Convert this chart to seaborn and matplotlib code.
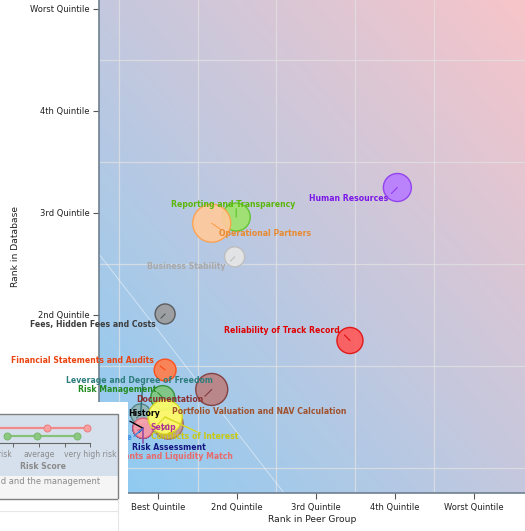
import numpy as np
import pandas as pd
import matplotlib
matplotlib.use("Agg")
import matplotlib.pyplot as plt
import seaborn as sns
from matplotlib.colors import LinearSegmentedColormap
from matplotlib.patches import Rectangle
from matplotlib.lines import Line2D

# --- data ------------------------------------------------------------------
factors = [
    "History", "Setup", "Compliance", "Risk Assessment",
    "Leverage and Degree of Freedom", "Investments and Liquidity Match",
    "Documentation", "Risk Management", "Conflicts of Interest",
    "Portfolio Valuation and NAV Calculation", "Financial Statements and Audits",
    "Fees, Hidden Fees and Costs", "Business Stability",
    "Reporting and Transparency", "Operational Partners",
    "Reliability of Track Record", "Human Resources",
]
peer_rank = [0.81, 0.81, 0.81, 0.81, 0.78, 0.81, 1.13, 1.06, 1.09, 1.68, 1.09,
             1.09, 1.97, 1.99, 1.68, 3.43, 4.03]
db_rank = [0.89, 0.89, 0.89, 0.89, 1.03, 0.89, 0.93, 1.19, 1.00, 1.27, 1.46,
           2.01, 2.57, 2.96, 2.90, 1.75, 3.25]
weight = [5.0, 5.0, 5.0, 5.0, 5.0, 5.0, 11.2, 7.2, 14.5, 12.8, 6.0,
          5.0, 5.0, 9.8, 18.0, 8.5, 9.8]
trend_angle = [225, 225, 225, 225, 225, 200, 225, 135, 225, 225, 140,
               225, 225, 90, -35, 135, 225]

quintiles = ["Best Quintile", "2nd Quintile", "3rd Quintile", "4th Quintile", "Worst Quintile"]

# mini risk score panel
score_ticks = ["very low risk", "", "average", "", "very high risk"]
fund_scores = [1.2, 3.31, 4.87]
mgmt_scores = [1.75, 2.92, 4.48]

# --- styles -----------------------------------------------------------------
fill = {
    "History": "#606060", "Setup": "#c060b0", "Compliance": "#70a8e8",
    "Risk Assessment": "#5050a0", "Leverage and Degree of Freedom": "#93b5b5",
    "Investments and Liquidity Match": "#ffa2aa", "Documentation": "#c89a8c",
    "Risk Management": "#7fc67f", "Conflicts of Interest": "#ffff6a",
    "Portfolio Valuation and NAV Calculation": "#bb8282",
    "Financial Statements and Audits": "#ff7d4c",
    "Fees, Hidden Fees and Costs": "#9c9c9c", "Business Stability": "#e6e6e6",
    "Reporting and Transparency": "#9ee36c", "Operational Partners": "#ffca9c",
    "Reliability of Track Record": "#ff5a5a", "Human Resources": "#b87cff",
}
edge = {
    "History": "#303030", "Setup": "#902080", "Compliance": "#3070c0",
    "Risk Assessment": "#202070", "Leverage and Degree of Freedom": "#4f7f7f",
    "Investments and Liquidity Match": "#e0607a", "Documentation": "#9a6a5a",
    "Risk Management": "#2f8f2f", "Conflicts of Interest": "#d8d820",
    "Portfolio Valuation and NAV Calculation": "#7f3a3a",
    "Financial Statements and Audits": "#ff4a10",
    "Fees, Hidden Fees and Costs": "#555555", "Business Stability": "#bdbdbd",
    "Reporting and Transparency": "#5cc227", "Operational Partners": "#ffa04a",
    "Reliability of Track Record": "#e01010", "Human Resources": "#8f3cf0",
}
label_color = {
    "History": "#000000", "Setup": "#b0309a", "Compliance": "#3a8fe6",
    "Risk Assessment": "#141480", "Leverage and Degree of Freedom": "#2e7d7d",
    "Investments and Liquidity Match": "#e86a6a", "Documentation": "#8b3030",
    "Risk Management": "#228b22", "Conflicts of Interest": "#c8c810",
    "Portfolio Valuation and NAV Calculation": "#a0522d",
    "Financial Statements and Audits": "#ea4410",
    "Fees, Hidden Fees and Costs": "#3d3d3d", "Business Stability": "#a9a9a9",
    "Reporting and Transparency": "#5bb70a", "Operational Partners": "#e88a32",
    "Reliability of Track Record": "#e00000", "Human Resources": "#7b16e8",
}
# label placement (offset in pixels from bubble centre, +y down), alignment
label_pos = {
    "History": (-15, -15, "left"), "Setup": (8, -1, "left"),
    "Compliance": (-10, 9, "right"), "Risk Assessment": (-11, 19, "left"),
    "Leverage and Degree of Freedom": (-1, -33, "center"),
    "Investments and Liquidity Match": (90, 28, "right"),
    "Documentation": (2, -25, "center"), "Risk Management": (-6, -8, "right"),
    "Conflicts of Interest": (-14, 19, "left"),
    "Portfolio Valuation and NAV Calculation": (-40, 22, "left"),
    "Financial Statements and Audits": (-11, -10, "right"),
    "Fees, Hidden Fees and Costs": (-9, 11, "right"),
    "Business Stability": (-9, 10, "right"),
    "Reporting and Transparency": (-3, -13, "center"),
    "Operational Partners": (7, 10, "left"),
    "Reliability of Track Record": (-10, -10, "right"),
    "Human Resources": (-9, 11, "right"),
}
# leader lines from bubble centre (pixels, +y down)
leaders = {
    "History": (-13, -7), "Compliance": (-9, 8), "Risk Assessment": (0, 15),
    "Leverage and Degree of Freedom": (2, -28), "Conflicts of Interest": (32, 15),
}
leader_color = {
    "History": "#000000", "Compliance": "#3a8fe6", "Risk Assessment": "#8a3aa0",
    "Leverage and Degree of Freedom": "#2e6e6e", "Conflicts of Interest": "#d8d820",
}

df = pd.DataFrame({"factor": factors, "peer": peer_rank, "db": db_rank,
                   "weight": weight, "angle": trend_angle})

sns.set_theme(style="white")
plt.rcParams["font.family"] = ["DejaVu Sans"]

W, H = 525, 531
PX = 0.72  # points per pixel at dpi 100
fig = plt.figure(figsize=(W / 100, H / 100), dpi=100)
ax = fig.add_axes([99 / W, (H - 493) / H, 1 - 99 / W, 493 / H])

xlim = (0.253, 5.646)
ylim = (0.255, 5.088)

# gradient background
u = np.linspace(0, 1, 300)
gx, gy = np.meshgrid(u, u)
grad = (gx + gy) / 2
cmap = LinearSegmentedColormap.from_list("bg", ["#8ccbf3", "#c4c8de", "#f7c5ca"])
ax.imshow(grad, extent=(*xlim, *ylim), origin="lower", aspect="auto",
          cmap=cmap, zorder=0, interpolation="bilinear")
ax.axline((0, 2.85), slope=-1, color="white", lw=0.6, alpha=0.55, zorder=1)

# bubbles
smax = 41.5 * 20
sns.scatterplot(data=df, x="peer", y="db", hue="factor", palette=fill,
                size="weight", sizes=(0, smax), size_norm=(0, 20),
                edgecolor=[edge[f] for f in factors], linewidth=1.0,
                alpha=0.92, legend=False, ax=ax, zorder=3)

for _, row in df.iterrows():
    f = row["factor"]
    r_pt = np.sqrt(41.5 * row["weight"]) / 2
    L = 0.6 * r_pt
    a = np.deg2rad(row["angle"])
    ax.annotate("", xy=(row["peer"], row["db"]), xytext=(L * np.cos(a), L * np.sin(a)),
                textcoords="offset points",
                arrowprops=dict(arrowstyle="-", color=edge[f], lw=0.8,
                                shrinkA=0, shrinkB=0), zorder=4)
    if f in leaders:
        lx, ly = leaders[f]
        ax.annotate("", xy=(row["peer"], row["db"]), xytext=(lx * PX, -ly * PX),
                    textcoords="offset points",
                    arrowprops=dict(arrowstyle="-", color=leader_color[f], lw=1.0,
                                    shrinkA=0, shrinkB=0), zorder=5)
    dx, dy, ha = label_pos[f]
    ax.annotate(f, xy=(row["peer"], row["db"]), xytext=(dx * PX, -dy * PX),
                textcoords="offset points", ha=ha, va="center",
                fontsize=5.6, fontweight="bold", color=label_color[f], zorder=6)

ax.set_xlim(*xlim)
ax.set_ylim(*ylim)
ax.set_xticks(range(1, 6))
ax.set_xticklabels(quintiles)
ax.set_yticks(range(1, 6))
ax.set_yticklabels(quintiles)
ax.set_xticks(np.arange(0.5, 5.0, 1), minor=True)
ax.set_yticks(np.arange(0.5, 5.0, 1), minor=True)
ax.grid(which="minor", color="#e2e2e2", lw=0.9, alpha=0.75)
ax.grid(which="major", visible=False)
ax.tick_params(which="minor", length=0)
ax.tick_params(which="major", length=4, width=0.8, color="#555555",
               labelsize=6.0, labelcolor="#222222", pad=3)
ax.tick_params(axis="x", which="major", bottom=True)
ax.tick_params(axis="y", which="major", left=True)
for s in ["top", "right"]:
    ax.spines[s].set_visible(False)
for s in ["left", "bottom"]:
    ax.spines[s].set_color("#6f7f8f")
    ax.spines[s].set_linewidth(1.2)
ax.set_xlabel("Rank in Peer Group", fontsize=6.6, color="#222222", labelpad=2)
ax.set_ylabel("Rank in Database", fontsize=6.6, color="#222222", labelpad=7)

# overlaid popup panel
fig.add_artist(Rectangle((0, 0), 128 / W, (H - 402) / H, transform=fig.transFigure,
                         facecolor="white", edgecolor="none", zorder=5))
fig.add_artist(Rectangle((-2 / W, (H - 476) / H), 120 / W, 62 / H,
                         transform=fig.transFigure, facecolor="#d6e0ec",
                         edgecolor="none", zorder=5.1))
fig.add_artist(Rectangle((-2 / W, (H - 499) / H), 120 / W, 23 / H,
                         transform=fig.transFigure, facecolor="#f5f5f5",
                         edgecolor="none", zorder=5.1))
fig.add_artist(Rectangle((-2 / W, (H - 499) / H), 120 / W, 85 / H,
                         transform=fig.transFigure, facecolor="none",
                         edgecolor="#808080", lw=1.0, zorder=5.2))
fig.add_artist(Line2D([0, 118 / W], [(H - 511) / H] * 2, transform=fig.transFigure,
                      color="#e6e6e6", lw=0.8, zorder=5.2))
fig.add_artist(Line2D([118 / W] * 2, [0, (H - 499) / H], transform=fig.transFigure,
                      color="#e6e6e6", lw=0.8, zorder=5.2))
fig.text(100 / W, (H - 481) / H, "fund and the management", ha="right", va="center",
         fontsize=6.0, color="#8a8a8a", zorder=5.3)

mini = fig.add_axes([-14 / W, (H - 443) / H, 114 / W, 22 / H], zorder=6)
mini.set_facecolor("none")
sns.lineplot(x=fund_scores, y=[2] * len(fund_scores), marker="o", color="#f28a8a",
             markersize=5, markerfacecolor="#f6a0a0", markeredgecolor="#ee8080",
             lw=1.6, ax=mini)
sns.lineplot(x=mgmt_scores, y=[1] * len(mgmt_scores), marker="o", color="#86c27a",
             markersize=5, markerfacecolor="#8cc880", markeredgecolor="#7ab86e",
             lw=1.6, ax=mini)
mini.set_xlim(0.94, 5.37)
mini.set_ylim(0, 3)
mini.set_yticks([])
mini.set_xticks(range(1, 6))
mini.set_xticklabels(score_ticks)
mini.tick_params(axis="x", length=3, width=0.7, color="#666666", labelsize=5.5,
                 labelcolor="#8a8a8a", pad=2, bottom=True)
for s in ["top", "right", "left"]:
    mini.spines[s].set_visible(False)
mini.spines["bottom"].set_color("#666666")
mini.spines["bottom"].set_linewidth(0.8)
mini.spines["bottom"].set_bounds(0.94, 5.0)
mini.set_xlabel("Risk Score", fontsize=5.6, fontweight="bold", color="#8a8a8a", labelpad=2)

fig.savefig("out.png", dpi=100)
